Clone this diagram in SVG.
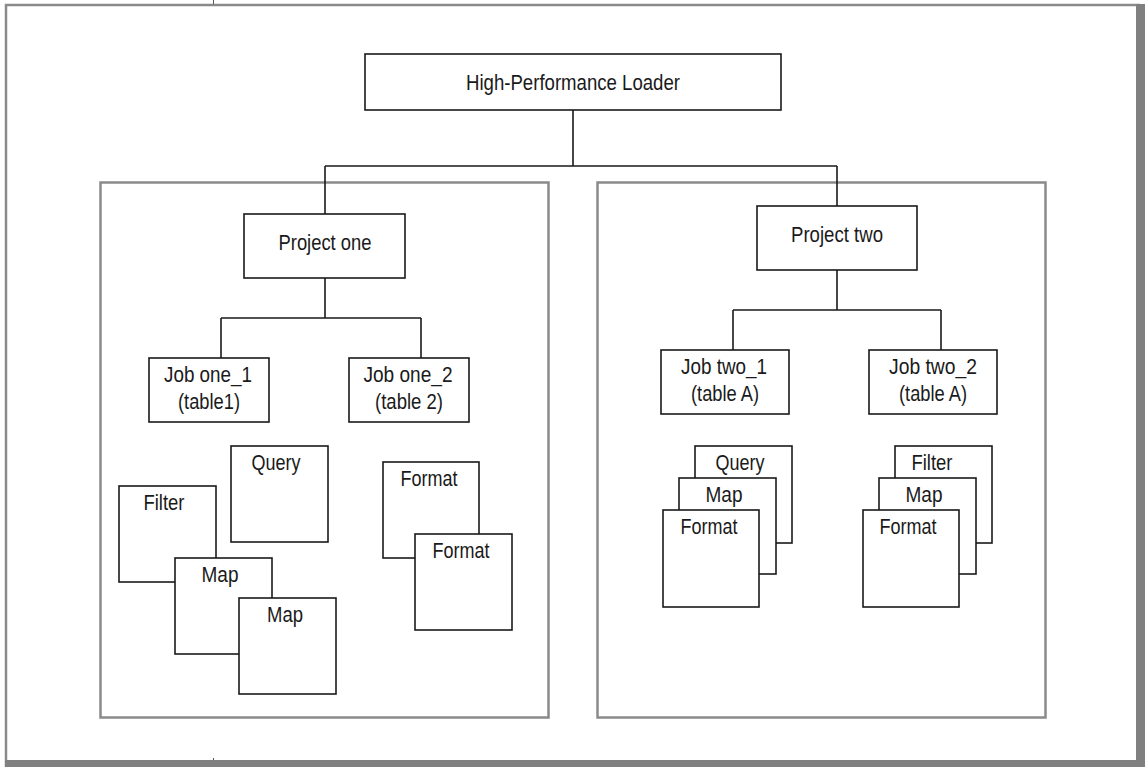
<svg xmlns="http://www.w3.org/2000/svg" width="1145" height="767" viewBox="0 0 1145 767">
  <style>
    .frame { fill: none; stroke: #8a8a8a; stroke-width: 2.5; }
    .box { fill: #ffffff; stroke: #1a1a1a; stroke-width: 1.6; }
    .wire { fill: none; stroke: #1a1a1a; stroke-width: 1.6; }
    .lbl { font-family: "Liberation Sans Narrow", "Liberation Sans", Arial, sans-serif; font-size: 22px; fill: #1a1a1a; text-anchor: middle; }
  </style>
  <rect width="1145" height="767" fill="#ffffff"/>

  <!-- page border -->
  <g id="page">
    <path class="frame" d="M6,767 V5 H1140"/>
    <rect x="1136" y="4" width="9" height="763" fill="#808080"/>
    <rect x="5" y="760" width="1140" height="7" fill="#808080"/>
    <line x1="213.5" y1="0" x2="213.5" y2="4" stroke="#555" stroke-width="1"/>
    <line x1="213.5" y1="758" x2="213.5" y2="760" stroke="#555" stroke-width="1"/>
  </g>

  <!-- project containers -->
  <g id="container-one"><rect class="frame" x="100.5" y="182.5" width="448" height="535"/></g>
  <g id="container-two"><rect class="frame" x="597.5" y="182.5" width="448" height="535"/></g>

  <!-- connectors -->
  <g id="connectors">
    <path class="wire" d="M573,110 V166 M325,166 H837 M325,166 V214 M837,166 V206"/>
    <path class="wire" d="M325,278 V318 M221,318 H421 M221,318 V358 M421,318 V358"/>
    <path class="wire" d="M837,270 V310 M733,310 H941 M733,310 V350 M941,310 V350"/>
  </g>

  <g id="hpl">
    <rect class="box" x="365" y="54" width="416" height="56"/>
    <text class="lbl" x="573" y="90" textLength="214" lengthAdjust="spacingAndGlyphs">High-Performance Loader</text>
  </g>

  <g id="project-one">
    <rect class="box" x="244" y="214" width="161" height="64"/>
    <text class="lbl" x="325" y="250" textLength="93" lengthAdjust="spacingAndGlyphs">Project one</text>
  </g>
  <g id="project-two">
    <rect class="box" x="757" y="206" width="160" height="64"/>
    <text class="lbl" x="837" y="242" textLength="92" lengthAdjust="spacingAndGlyphs">Project two</text>
  </g>

  <g id="job-one-1">
    <rect class="box" x="149" y="358" width="120" height="64"/>
    <text class="lbl" x="208" y="382" textLength="88" lengthAdjust="spacingAndGlyphs">Job one_1</text>
    <text class="lbl" x="209" y="409" textLength="62" lengthAdjust="spacingAndGlyphs">(table1)</text>
  </g>
  <g id="job-one-2">
    <rect class="box" x="349" y="358" width="120" height="64"/>
    <text class="lbl" x="408" y="382" textLength="89" lengthAdjust="spacingAndGlyphs">Job one_2</text>
    <text class="lbl" x="409" y="409" textLength="68" lengthAdjust="spacingAndGlyphs">(table 2)</text>
  </g>
  <g id="job-two-1">
    <rect class="box" x="661" y="350" width="128" height="64"/>
    <text class="lbl" x="724" y="374" textLength="86" lengthAdjust="spacingAndGlyphs">Job two_1</text>
    <text class="lbl" x="725" y="401" textLength="68" lengthAdjust="spacingAndGlyphs">(table A)</text>
  </g>
  <g id="job-two-2">
    <rect class="box" x="869" y="350" width="128" height="64"/>
    <text class="lbl" x="933" y="374" textLength="88" lengthAdjust="spacingAndGlyphs">Job two_2</text>
    <text class="lbl" x="933" y="401" textLength="68" lengthAdjust="spacingAndGlyphs">(table A)</text>
  </g>

  <!-- job one_1 objects -->
  <g id="one1-query">
    <rect class="box" x="231" y="446" width="97" height="96"/>
    <text class="lbl" x="276" y="470" textLength="49" lengthAdjust="spacingAndGlyphs">Query</text>
  </g>
  <g id="one1-filter">
    <rect class="box" x="119" y="486" width="97" height="96"/>
    <text class="lbl" x="164" y="510" textLength="41" lengthAdjust="spacingAndGlyphs">Filter</text>
  </g>
  <g id="one1-map-a">
    <rect class="box" x="175" y="558" width="97" height="96"/>
    <text class="lbl" x="220" y="582" textLength="37" lengthAdjust="spacingAndGlyphs">Map</text>
  </g>
  <g id="one1-map-b">
    <rect class="box" x="239" y="598" width="97" height="96"/>
    <text class="lbl" x="285" y="622" textLength="36" lengthAdjust="spacingAndGlyphs">Map</text>
  </g>

  <!-- job one_2 objects -->
  <g id="one2-format-a">
    <rect class="box" x="383" y="462" width="96" height="96"/>
    <text class="lbl" x="429" y="486" textLength="57" lengthAdjust="spacingAndGlyphs">Format</text>
  </g>
  <g id="one2-format-b">
    <rect class="box" x="415" y="534" width="97" height="96"/>
    <text class="lbl" x="461" y="558" textLength="57" lengthAdjust="spacingAndGlyphs">Format</text>
  </g>

  <!-- job two_1 stack -->
  <g id="two1-query">
    <rect class="box" x="695" y="446" width="97" height="97"/>
    <text class="lbl" x="740" y="470" textLength="49" lengthAdjust="spacingAndGlyphs">Query</text>
  </g>
  <g id="two1-map">
    <rect class="box" x="679" y="478" width="97" height="96"/>
    <text class="lbl" x="724" y="502" textLength="37" lengthAdjust="spacingAndGlyphs">Map</text>
  </g>
  <g id="two1-format">
    <rect class="box" x="663" y="510" width="96" height="97"/>
    <text class="lbl" x="709" y="534" textLength="57" lengthAdjust="spacingAndGlyphs">Format</text>
  </g>

  <!-- job two_2 stack -->
  <g id="two2-filter">
    <rect class="box" x="895" y="446" width="97" height="97"/>
    <text class="lbl" x="932" y="470" textLength="41" lengthAdjust="spacingAndGlyphs">Filter</text>
  </g>
  <g id="two2-map">
    <rect class="box" x="879" y="478" width="97" height="96"/>
    <text class="lbl" x="924" y="502" textLength="37" lengthAdjust="spacingAndGlyphs">Map</text>
  </g>
  <g id="two2-format">
    <rect class="box" x="863" y="510" width="96" height="97"/>
    <text class="lbl" x="908" y="534" textLength="57" lengthAdjust="spacingAndGlyphs">Format</text>
  </g>
</svg>
